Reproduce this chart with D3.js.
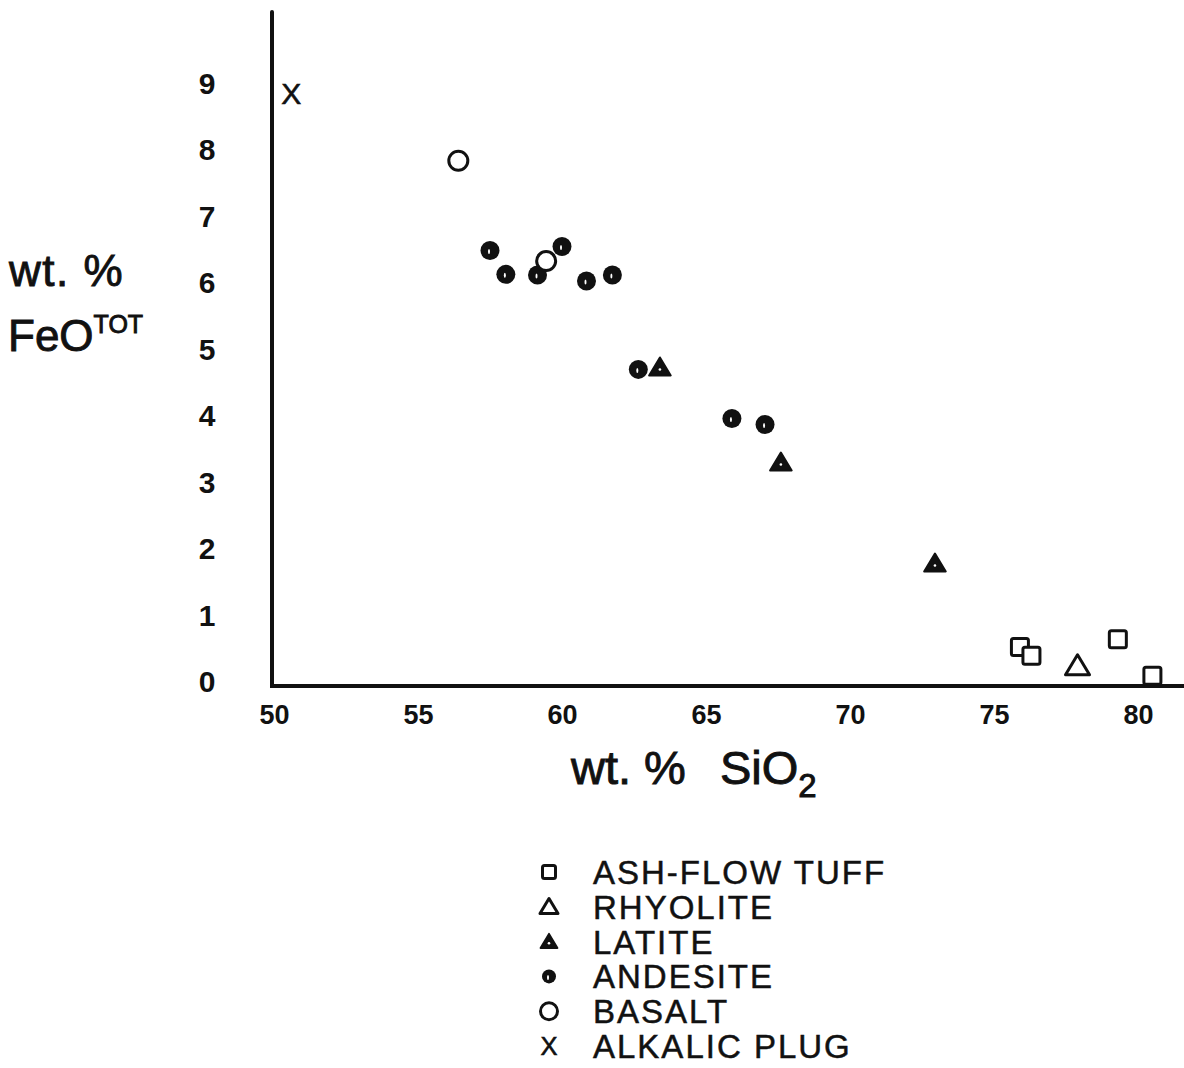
<!DOCTYPE html>
<html>
<head>
<meta charset="utf-8">
<script src="https://cdn.jsdelivr.net/npm/d3@7"></script>
<style>
  body { margin: 0; background: #fff; }
  svg text { font-family: "Liberation Sans", Arial, sans-serif; fill: #111; }
</style>
</head>
<body>
<svg id="chart" width="1184" height="1068"></svg>
<script>
// values (SiO2 wt.%, FeO total wt.%)
const ashFlowTuff = [[75.9, 0.51], [76.3, 0.38], [79.3, 0.63], [80.5, 0.08]];
const rhyolite = [[77.9, 0.23]];
const latite = [[63.4, 4.72], [67.6, 3.29], [72.95, 1.77]];
const andesite = [[57.5, 6.48], [58.05, 6.12], [59.15, 6.11], [60.0, 6.54], [60.85, 6.02],
  [61.75, 6.11], [62.65, 4.69], [65.9, 3.95], [67.05, 3.86]];
const basalt = [[56.4, 7.83], [59.45, 6.32]];
const alkalicPlug = [[50.6, 8.84]];

const xTicks = [50, 55, 60, 65, 70, 75, 80];
const yTicks = [0, 1, 2, 3, 4, 5, 6, 7, 8, 9];
const legendLabels = ['ASH-FLOW TUFF', 'RHYOLITE', 'LATITE', 'ANDESITE', 'BASALT', 'ALKALIC PLUG'];

const svg = d3.select('#chart');
const x = d3.scaleLinear().domain([50, 80]).range([274, 1138]);
const y = d3.scaleLinear().domain([0, 9]).range([681, 83]);

// axes lines
svg.append('line').attr('x1', 272).attr('x2', 272).attr('y1', 12).attr('y2', 686)
  .attr('stroke', '#111').attr('stroke-width', 4).attr('stroke-linecap', 'round');
svg.append('line').attr('x1', 270).attr('x2', 1184).attr('y1', 686).attr('y2', 686)
  .attr('stroke', '#111').attr('stroke-width', 4);

// tick labels via d3 axes, no tick lines
const yAxis = svg.append('g').attr('transform', 'translate(272,0)')
  .call(d3.axisLeft(y).tickValues(yTicks).tickSize(0).tickFormat(d3.format('d')));
yAxis.select('.domain').remove();
yAxis.selectAll('text').attr('font-size', 30).attr('font-weight', 'bold')
  .attr('text-anchor', 'middle').attr('x', -65).attr('dy', '0.35em');

const xAxis = svg.append('g').attr('transform', 'translate(0,686)')
  .call(d3.axisBottom(x).tickValues(xTicks).tickSize(0).tickPadding(19));
xAxis.select('.domain').remove();
xAxis.selectAll('text').attr('font-size', 27).attr('font-weight', 'bold')
  .attr('font-family', '"DejaVu Sans", sans-serif');

// axis titles
const titleStroke = t => t.attr('stroke', '#111').attr('stroke-width', 0.9);
const yt = svg.append('text').attr('x', 9).attr('y', 286).attr('font-size', 44)
  .attr('letter-spacing', 1.5).call(titleStroke);
yt.text('wt. %');
const yt2 = svg.append('text').attr('x', 8).attr('y', 351).attr('font-size', 44).call(titleStroke);
yt2.append('tspan').text('FeO');
yt2.append('tspan').attr('font-size', 25).attr('dy', -18).text('TOT');

const xt = svg.append('text').attr('y', 784).attr('font-size', 47).call(titleStroke);
xt.append('tspan').attr('x', 571).text('wt. %');
xt.append('tspan').attr('x', 720).text('SiO');
xt.append('tspan').attr('font-size', 33).attr('dy', 13).text('2');

// marker drawing helpers
const triPath = s => `M0,${-s * 0.55}L${s * 0.6},${s * 0.45}L${-s * 0.6},${s * 0.45}Z`;

function drawMarker(g, type, size) {
  if (type === 'square') {
    g.append('rect').attr('x', -size / 2).attr('y', -size / 2).attr('width', size).attr('height', size)
      .attr('rx', 2).attr('fill', '#fff').attr('stroke', '#111').attr('stroke-width', 3);
  } else if (type === 'openTri') {
    g.append('path').attr('d', triPath(size)).attr('fill', '#fff').attr('stroke', '#111')
      .attr('stroke-width', 3).attr('stroke-linejoin', 'round');
  } else if (type === 'fillTri') {
    g.append('path').attr('d', triPath(size)).attr('fill', '#111').attr('stroke', '#111')
      .attr('stroke-width', 2).attr('stroke-linejoin', 'round');
    g.append('circle').attr('cx', 0).attr('cy', size * 0.12).attr('r', 1.3).attr('fill', '#fff');
  } else if (type === 'dot') {
    g.append('circle').attr('r', size / 2).attr('fill', '#111');
    g.append('ellipse').attr('cx', -1).attr('cy', 1).attr('rx', 1).attr('ry', 2.5).attr('fill', '#fff');
  } else if (type === 'ring') {
    g.append('circle').attr('r', size / 2).attr('fill', '#fff').attr('stroke', '#111').attr('stroke-width', 3);
  } else if (type === 'cross') {
    g.append('text').attr('text-anchor', 'middle').attr('dy', '0.36em').attr('font-size', size * 1.5)
      .attr('stroke', '#111').attr('stroke-width', 0.6).text('X');
  }
}

const series = [
  { data: ashFlowTuff, type: 'square', size: 17 },
  { data: rhyolite, type: 'openTri', size: 20 },
  { data: latite, type: 'fillTri', size: 18 },
  { data: andesite, type: 'dot', size: 19 },
  { data: basalt, type: 'ring', size: 19 },
  { data: alkalicPlug, type: 'cross', size: 20 }
];

series.forEach(s => {
  svg.append('g').selectAll('g')
    .data(s.data)
    .enter()
    .append('g')
    .attr('transform', d => `translate(${x(d[0])},${y(d[1])})`)
    .each(function () { drawMarker(d3.select(this), s.type, s.size); });
});

// legend
const legend = svg.append('g').attr('transform', 'translate(549,872)');
const legendSizes = [13, 15, 14, 14, 17, 17];
legendLabels.forEach((label, i) => {
  const row = legend.append('g').attr('transform', `translate(0,${i * 34.8})`);
  drawMarker(row, series[i].type, legendSizes[i]);
  row.append('text').attr('x', 44).attr('y', 12).attr('font-size', 33)
    .attr('letter-spacing', 2).attr('stroke', '#111').attr('stroke-width', 0.5).text(label);
});
</script>
</body>
</html>
